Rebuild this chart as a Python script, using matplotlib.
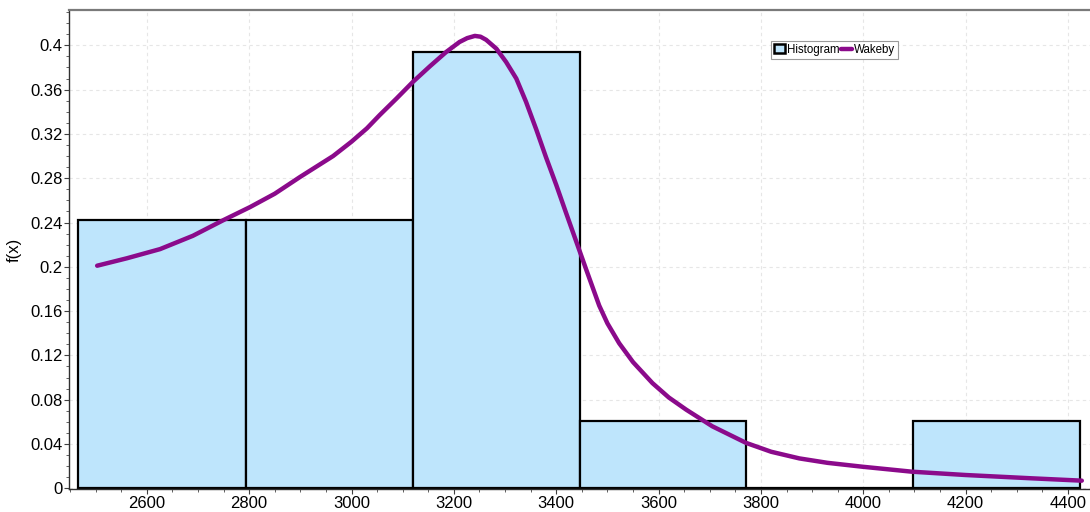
import numpy as np
import matplotlib
matplotlib.use("Agg")
import matplotlib.pyplot as plt
from matplotlib.patches import Rectangle
from matplotlib.legend_handler import HandlerPatch
from matplotlib.ticker import MultipleLocator

plt.rcParams['font.family'] = ['Liberation Sans', 'DejaVu Sans']

# Histogram: bin edges and relative frequencies (counts out of 33)
bin_edges = [2466, 2794, 3120, 3446, 3771, 4097, 4423]
bin_counts = [8, 8, 13, 2, 0, 2]
n_total = 33
rel_freq = [c / n_total for c in bin_counts]

# Fitted Wakeby density
wakeby_x = [2503, 2561, 2626, 2690, 2749, 2802, 2850, 2899, 2964, 3000,
            3030, 3055, 3088, 3120, 3153, 3185, 3211, 3226, 3241, 3252,
            3263, 3283, 3302, 3322, 3341, 3361, 3380, 3400, 3419, 3439,
            3459, 3484, 3500, 3523, 3550, 3588, 3620, 3654, 3705, 3771,
            3820, 3875, 3930, 3998, 4095, 4200, 4330, 4427]
wakeby_y = [0.201, 0.2077, 0.216, 0.228, 0.242, 0.254, 0.266, 0.281, 0.300,
            0.313, 0.325, 0.337, 0.352, 0.367, 0.381, 0.394, 0.403, 0.4065,
            0.4085, 0.4078, 0.405, 0.397, 0.385, 0.370, 0.349, 0.324, 0.299,
            0.274, 0.249, 0.223, 0.197, 0.165, 0.149, 0.131, 0.114, 0.095,
            0.082, 0.071, 0.056, 0.041, 0.033, 0.027, 0.023, 0.0195, 0.015,
            0.012, 0.009, 0.0069]

y_ticks = [0, 0.04, 0.08, 0.12, 0.16, 0.2, 0.24, 0.28, 0.32, 0.36, 0.4]
y_tick_labels = ['0', '0.04', '0.08', '0.12', '0.16', '0.2', '0.24', '0.28',
                 '0.32', '0.36', '0.4']
x_ticks = [2600, 2800, 3000, 3200, 3400, 3600, 3800, 4000, 4200, 4400]

bar_color = '#BEE5FC'
curve_color = '#8B0A8B'

fig = plt.figure(figsize=(10.9, 5.12), dpi=100)
ax = fig.add_axes([68.5 / 1090, 1 - 489.3 / 512, 1 - 68.5 / 1090, (489.3 - 10) / 512])

edges = np.array(bin_edges, dtype=float)
bars = ax.bar(edges[:-1], rel_freq, width=np.diff(edges), align='edge',
              color=bar_color, edgecolor='black', linewidth=1.6, zorder=2,
              label='Histogram')
line, = ax.plot(wakeby_x, wakeby_y, color=curve_color, linewidth=3.2,
                solid_capstyle='round', solid_joinstyle='round', zorder=3,
                label='Wakeby')

ax.set_xlim(2447, 4443)
ax.set_ylim(-0.0009, 0.4319)

ax.set_yticks(y_ticks)
ax.set_yticklabels(y_tick_labels)
ax.set_xticks(x_ticks)
ax.yaxis.set_minor_locator(MultipleLocator(0.01))
ax.xaxis.set_minor_locator(MultipleLocator(50))
ax.tick_params(axis='both', which='major', length=3.6, width=0.8,
               color='#404040', labelsize=12, labelcolor='black')
ax.tick_params(axis='both', which='minor', length=2, width=0.7,
               color='#606060')
ax.tick_params(axis='x', which='major', pad=1.5)
ax.tick_params(axis='y', which='major', pad=0.8)

ax.grid(True, which='major', color='#E6E6E6', linestyle=(0, (3, 3)),
        linewidth=0.8, zorder=0)
ax.set_axisbelow(True)

ax.spines['right'].set_visible(False)
ax.spines['top'].set_color('#7A7A7A')
ax.spines['top'].set_linewidth(1.6)
ax.spines['left'].set_color('#303030')
ax.spines['left'].set_linewidth(1.0)
ax.spines['bottom'].set_color('#303030')
ax.spines['bottom'].set_linewidth(1.0)

ax.set_ylabel('f(x)', fontsize=12, labelpad=6)


def narrow_box(legend, orig_handle, xdescent, ydescent, width, height, fontsize):
    w = width * 0.55
    return Rectangle((-xdescent + (width - w) / 2, -ydescent), w, height)


leg = ax.legend([bars, line], ['Histogram', 'Wakeby'],
                loc='upper left', bbox_to_anchor=(771 / 1090, 1 - 41 / 512),
                bbox_transform=fig.transFigure, ncol=2, fontsize=8.3,
                frameon=True, fancybox=False, framealpha=1,
                edgecolor='#9A9A9A', borderpad=0.25, handlelength=1.0,
                handleheight=0.8, handletextpad=0.15, columnspacing=0.1,
                borderaxespad=0,
                handler_map={Rectangle: HandlerPatch(patch_func=narrow_box)})
leg.get_frame().set_linewidth(0.8)
for h in leg.legend_handles:
    if isinstance(h, Rectangle):
        h.set_linewidth(1.8)

fig.savefig('out.png', dpi=100)
